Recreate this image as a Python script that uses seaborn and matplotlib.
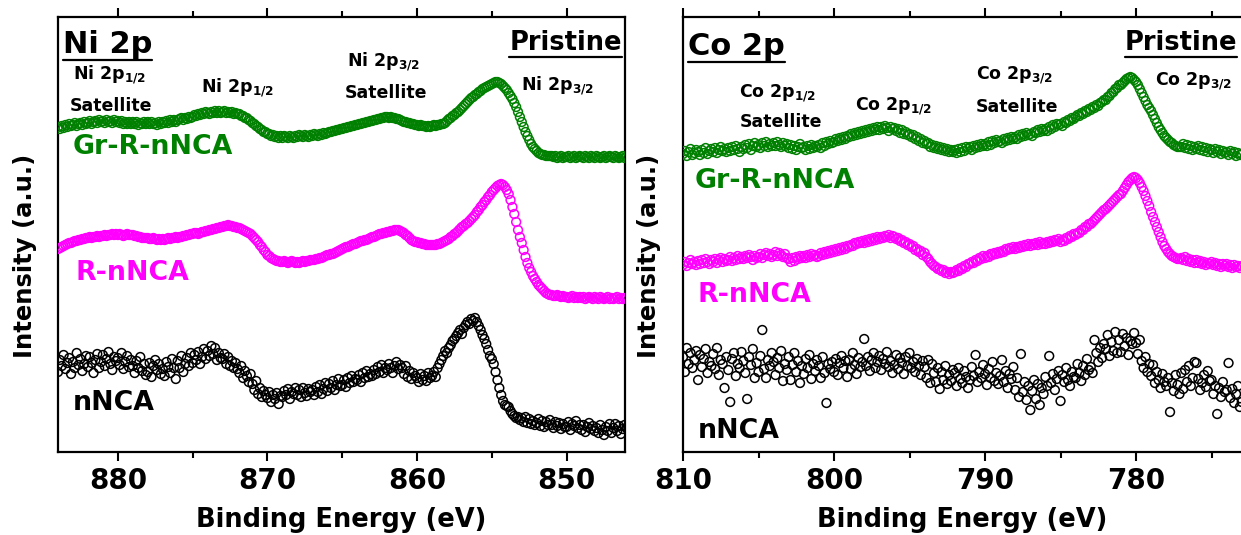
import numpy as np
import pandas as pd
import matplotlib
matplotlib.use("Agg")
import matplotlib.pyplot as plt
import seaborn as sns
from matplotlib.lines import Line2D

# ---------------- data (arbitrary intensity units) ----------------
ni_energy = np.arange(884.0, 845.9, -0.125)      # Ni 2p binding-energy grid
co_energy = np.arange(810.0, 772.9, -0.125)      # Co 2p binding-energy grid

ni_gr = [325, 323, 326, 324, 327, 325, 328, 326,   # 884
         327, 329, 326, 328, 329, 327, 330, 328,   # 883
         329, 331, 328, 330, 331, 329, 332, 330,   # 882
         331, 329, 332, 330, 331, 329, 332, 330,   # 881
         331, 329, 331, 328, 330, 328, 330, 328,   # 880
         330, 328, 330, 327, 329, 328, 330, 328,   # 879
         330, 328, 330, 328, 329, 327, 330, 328,   # 878
         330, 329, 331, 329, 332, 330, 332, 330,   # 877
         332, 333, 334, 332, 334, 333, 335, 334,   # 876
         335, 337, 336, 338, 337, 339, 338, 340,   # 875
         339, 338, 340, 339, 341, 339, 341, 339,   # 874
         340, 341, 339, 340, 339, 340, 338, 339,   # 873
         338, 338, 336, 336, 334, 334, 332, 331,   # 872
         329, 328, 326, 325, 323, 322, 320, 320,   # 871
         318, 318, 316, 317, 315, 316, 314, 316,   # 870
         314, 316, 315, 314, 316, 315, 314, 316,   # 869
         315, 317, 316, 315, 317, 316, 315, 317,   # 868
         316, 318, 317, 316, 318, 317, 319, 318,   # 867
         319, 320, 320, 321, 321, 322, 322, 323,   # 866
         323, 324, 324, 325, 325, 326, 326, 327,   # 865
         327, 328, 328, 329, 329, 330, 330, 331,   # 864
         331, 332, 332, 333, 333, 334, 334, 335,   # 863
         335, 334, 335, 334, 334, 333, 333, 332,   # 862
         331, 330, 330, 329, 329, 328, 328, 327,   # 861
         327, 326, 327, 326, 326, 325, 326, 325,   # 860
         326, 327, 326, 327, 327, 328, 328, 329,   # 859
         331, 333, 334, 336, 337, 339, 340, 342,   # 858
         344, 346, 348, 350, 352, 354, 355, 357,   # 857
         358, 360, 361, 363, 364, 365, 366, 367,   # 856
         368, 369, 370, 370, 369, 368, 366, 364,   # 855
         362, 359, 356, 353, 349, 345, 340, 335,   # 854
         330, 325, 320, 316, 312, 308, 305, 303,   # 853
         301, 299, 298, 297, 297, 296, 296, 296,   # 852
         296, 295, 296, 294, 295, 296, 294, 295,   # 851
         295, 296, 294, 295, 296, 294, 295, 296,   # 850
         295, 294, 296, 295, 294, 296, 295, 294,   # 849
         296, 295, 294, 295, 296, 294, 295, 296,   # 848
         295, 294, 296, 295, 294, 295, 296, 294,   # 847
         295]                                      # 846

ni_r = [203, 204, 205, 206, 207, 208, 209, 209,   # 884
        210, 211, 211, 212, 212, 213, 213, 214,   # 883
        214, 215, 214, 215, 215, 216, 215, 216,   # 882
        216, 217, 216, 217, 217, 218, 217, 218,   # 881
        217, 218, 217, 216, 217, 218, 217, 217,   # 880
        217, 216, 216, 215, 215, 214, 214, 214,   # 879
        214, 213, 213, 214, 213, 212, 213, 212,   # 878
        213, 212, 213, 214, 213, 214, 214, 215,   # 877
        214, 215, 215, 216, 216, 217, 217, 218,   # 876
        218, 219, 219, 218, 219, 220, 220, 221,   # 875
        221, 222, 222, 223, 223, 224, 224, 225,   # 874
        225, 226, 226, 227, 226, 226, 225, 225,   # 873
        224, 224, 223, 222, 221, 220, 219, 218,   # 872
        216, 214, 212, 210, 207, 205, 202, 200,   # 871
        197, 196, 194, 193, 192, 191, 191, 190,   # 870
        190, 191, 190, 189, 190, 191, 190, 189,   # 869
        190, 189, 190, 191, 190, 191, 191, 192,   # 868
        192, 192, 193, 193, 194, 194, 195, 196,   # 867
        197, 197, 198, 198, 199, 200, 201, 202,   # 866
        203, 204, 205, 205, 206, 207, 208, 208,   # 865
        209, 210, 211, 211, 212, 212, 213, 214,   # 864
        215, 215, 216, 217, 218, 218, 219, 219,   # 863
        220, 220, 221, 221, 222, 222, 222, 221,   # 862
        220, 219, 217, 216, 214, 212, 211, 210,   # 861
        210, 209, 209, 208, 208, 207, 207, 207,   # 860
        207, 207, 207, 208, 208, 209, 210, 211,   # 859
        212, 213, 215, 216, 218, 219, 221, 223,   # 858
        225, 226, 228, 229, 231, 233, 235, 237,   # 857
        240, 242, 245, 247, 250, 252, 255, 257,   # 856
        260, 262, 264, 266, 267, 268, 267, 265,   # 855
        262, 258, 252, 245, 238, 230, 222, 215,   # 854
        209, 202, 195, 189, 184, 180, 176, 173,   # 853
        170, 167, 165, 163, 161, 159, 158, 157,   # 852
        157, 156, 156, 157, 156, 155, 156, 155,   # 851
        155, 154, 155, 156, 154, 155, 154, 155,   # 850
        154, 155, 153, 154, 155, 154, 153, 155,   # 849
        154, 153, 155, 154, 153, 154, 155, 153,   # 848
        154, 153, 154, 155, 153, 154, 153, 154,   # 847
        154]                                      # 846

ni_n = [80, 92, 86, 97, 83, 89, 94, 78,     # 884
        90, 84, 99, 87, 93, 81, 88, 96,     # 883
        85, 95, 89, 79, 92, 98, 84, 90,     # 882
        97, 86, 93, 100, 88, 82, 95, 91,    # 881
        94, 87, 99, 83, 90, 96, 85, 92,     # 880
        86, 79, 91, 84, 95, 81, 88, 77,     # 879
        80, 89, 75, 86, 92, 82, 88, 78,     # 878
        83, 76, 90, 85, 79, 93, 84, 73,     # 877
        91, 84, 96, 80, 88, 94, 86, 99,     # 876
        89, 97, 92, 100, 88, 95, 103, 93,   # 875
        101, 96, 106, 98, 104, 92, 99, 94,  # 874
        93, 98, 88, 95, 86, 91, 84, 89,     # 873
        83, 79, 86, 74, 81, 76, 70, 78,     # 872
        68, 62, 71, 58, 64, 55, 61, 57,     # 871
        54, 60, 50, 57, 53, 59, 48, 56,     # 870
        55, 61, 57, 63, 53, 60, 58, 64,     # 869
        57, 62, 55, 64, 59, 56, 63, 60,     # 868
        62, 57, 65, 60, 67, 58, 63, 69,     # 867
        61, 68, 64, 71, 62, 67, 73, 66,     # 866
        67, 72, 65, 74, 69, 76, 70, 73,     # 865
        72, 77, 70, 79, 74, 81, 75, 78,     # 864
        76, 82, 78, 85, 80, 87, 79, 84,     # 863
        82, 88, 84, 79, 86, 90, 83, 87,     # 862
        84, 78, 86, 75, 81, 73, 79, 76,     # 861
        74, 70, 78, 72, 76, 71, 79, 74,     # 860
        76, 80, 75, 84, 88, 92, 96, 101,    # 859
        99, 104, 107, 111, 113, 116, 119, 122,  # 858
        118, 124, 127, 130, 128, 133, 131, 134,  # 857
        130, 126, 122, 117, 113, 108, 102, 96,   # 856
        93, 88, 80, 72, 64, 57, 51, 47,     # 855
        46, 45, 41, 38, 36, 34, 35, 32,     # 854
        34, 30, 35, 29, 33, 28, 31, 27,     # 853
        29, 33, 26, 31, 25, 30, 27, 32,     # 852
        27, 24, 30, 26, 29, 23, 28, 25,     # 851
        25, 30, 22, 28, 26, 31, 24, 27,     # 850
        22, 27, 20, 25, 29, 23, 26, 21,     # 849
        24, 19, 27, 22, 17, 25, 21, 28,     # 848
        19, 24, 28, 21, 26, 18, 23, 27,     # 847
        24]                                 # 846

co_gr = [298, 301, 296, 300, 303, 297, 299, 302,   # 810
         300, 297, 302, 299, 304, 298, 301, 303,   # 809
         300, 304, 299, 302, 305, 301, 303, 300,   # 808
         304, 301, 305, 302, 306, 303, 300, 305,   # 807
         303, 307, 304, 308, 302, 306, 309, 305,   # 806
         307, 304, 309, 306, 310, 305, 308, 306,   # 805
         309, 306, 310, 307, 305, 309, 306, 308,   # 804
         304, 307, 303, 306, 302, 305, 308, 304,   # 803
         305, 302, 306, 303, 307, 304, 306, 305,   # 802
         307, 304, 309, 306, 310, 308, 311, 309,   # 801
         310, 313, 311, 314, 312, 315, 313, 316,   # 800
         315, 318, 316, 319, 317, 320, 318, 321,   # 799
         319, 322, 320, 323, 321, 324, 322, 325,   # 798
         322, 325, 323, 326, 324, 321, 325, 323,   # 797
         324, 321, 323, 319, 322, 318, 320, 317,   # 796
         318, 315, 317, 313, 315, 311, 313, 309,   # 795
         311, 308, 309, 305, 307, 304, 306, 303,   # 794
         305, 302, 304, 301, 303, 300, 302, 300,   # 793
         302, 299, 303, 300, 304, 301, 305, 303,   # 792
         305, 302, 306, 304, 307, 305, 308, 306,   # 791
         308, 306, 310, 307, 311, 309, 312, 310,   # 790
         311, 309, 313, 311, 314, 312, 315, 313,   # 789
         315, 313, 317, 315, 318, 316, 319, 317,   # 788
         318, 316, 320, 319, 322, 320, 323, 321,   # 787
         323, 321, 325, 323, 327, 325, 328, 327,   # 786
         328, 326, 330, 329, 332, 331, 334, 333,   # 785
         335, 337, 336, 339, 338, 341, 340, 343,   # 784
         342, 345, 344, 347, 346, 349, 350, 352,   # 783
         352, 355, 356, 359, 360, 363, 364, 367,   # 782
         367, 369, 371, 373, 374, 375, 374, 372,   # 781
         370, 367, 363, 359, 355, 351, 347, 344,   # 780
         341, 337, 333, 329, 325, 322, 319, 316,   # 779
         314, 312, 310, 309, 307, 306, 305, 305,   # 778
         305, 308, 304, 307, 303, 306, 302, 305,   # 777
         303, 306, 302, 305, 301, 304, 300, 303,   # 776
         302, 299, 303, 300, 302, 298, 301, 299,   # 775
         300, 297, 301, 298, 300, 296, 299, 297,   # 774
         298]                                      # 773

co_r = [187, 190, 186, 189, 192, 188, 190, 187,   # 810
        191, 188, 192, 189, 193, 190, 188, 192,   # 809
        190, 193, 189, 192, 194, 190, 193, 191,   # 808
        192, 195, 191, 194, 192, 196, 193, 195,   # 807
        193, 196, 194, 197, 195, 192, 196, 194,   # 806
        195, 198, 194, 197, 199, 196, 198, 195,   # 805
        197, 200, 196, 199, 197, 195, 198, 194,   # 804
        193, 190, 194, 191, 195, 193, 196, 194,   # 803
        196, 194, 197, 195, 198, 196, 197, 195,   # 802
        196, 199, 197, 200, 198, 201, 199, 202,   # 801
        200, 203, 201, 204, 202, 205, 203, 206,   # 800
        205, 207, 206, 209, 208, 210, 209, 211,   # 799
        209, 212, 210, 213, 211, 214, 212, 215,   # 798
        213, 215, 214, 216, 215, 217, 214, 216,   # 797
        215, 213, 214, 211, 212, 209, 210, 207,   # 796
        208, 205, 206, 202, 203, 200, 201, 197,   # 795
        199, 195, 193, 190, 188, 186, 185, 183,   # 794
        183, 181, 182, 179, 180, 178, 180, 179,   # 793
        180, 182, 181, 184, 183, 186, 185, 188,   # 792
        188, 190, 189, 192, 191, 194, 193, 196,   # 791
        194, 196, 195, 198, 197, 199, 198, 200,   # 790
        199, 201, 200, 203, 202, 204, 203, 205,   # 789
        203, 205, 204, 206, 205, 207, 206, 208,   # 788
        206, 208, 207, 209, 207, 210, 208, 209,   # 787
        208, 210, 209, 211, 210, 212, 211, 213,   # 786
        210, 212, 211, 214, 213, 216, 215, 218,   # 785
        217, 219, 219, 222, 222, 225, 225, 228,   # 784
        228, 230, 232, 234, 236, 238, 240, 242,   # 783
        243, 245, 247, 249, 251, 253, 255, 257,   # 782
        258, 261, 264, 267, 270, 272, 274, 275,   # 781
        274, 272, 269, 265, 261, 256, 251, 246,   # 780
        240, 235, 230, 225, 220, 215, 210, 206,   # 779
        203, 200, 198, 196, 195, 194, 193, 193,   # 778
        194, 192, 195, 191, 193, 190, 192, 189,   # 777
        192, 189, 191, 188, 190, 187, 189, 188,   # 776
        190, 187, 189, 186, 188, 185, 188, 186,   # 775
        188, 185, 187, 184, 187, 185, 186, 184,   # 774
        186]                                      # 773

co_n = [95, 80, 104, 88, 99, 84, 92, 101,   # 810
        72, 97, 85, 93, 103, 79, 90, 86,    # 809
        98, 83, 104, 77, 92, 88, 64, 95,    # 808
        82, 50, 93, 99, 76, 88, 84, 100,    # 807
        91, 79, 53, 95, 87, 103, 74, 89,    # 806
        80, 96, 122, 83, 74, 92, 86, 99,    # 805
        90, 77, 94, 84, 101, 71, 88, 82,    # 804
        95, 72, 87, 99, 80, 91, 69, 86,     # 803
        78, 93, 84, 97, 73, 88, 81, 92,     # 802
        86, 74, 95, 79, 49, 88, 83, 90,     # 801
        80, 93, 77, 89, 96, 84, 91, 75,     # 800
        92, 83, 99, 87, 78, 94, 85, 90,     # 799
        113, 86, 95, 81, 92, 99, 84, 90,    # 798
        96, 82, 93, 88, 100, 85, 91, 79,    # 797
        87, 97, 83, 94, 89, 78, 95, 86,     # 796
        99, 84, 90, 80, 93, 86, 77, 91,     # 795
        85, 74, 92, 69, 88, 79, 70, 84,     # 794
        63, 80, 72, 86, 68, 77, 71, 82,     # 793
        79, 66, 84, 73, 69, 81, 75, 64,     # 792
        72, 85, 76, 97, 70, 80, 74, 87,     # 791
        78, 67, 83, 74, 90, 71, 79, 68,     # 790
        76, 92, 70, 81, 64, 78, 73, 85,     # 789
        62, 74, 55, 98, 60, 70, 52, 66,     # 788
        42, 61, 72, 53, 68, 47, 64, 58,     # 787
        75, 66, 96, 69, 78, 62, 73, 81,     # 786
        51, 77, 70, 84, 72, 66, 80, 75,     # 785
        74, 88, 79, 71, 86, 77, 93, 82,     # 784
        85, 79, 112, 99, 90, 104, 94, 108,  # 783
        103, 117, 96, 110, 101, 120, 99, 112,  # 782
        100, 118, 106, 114, 97, 111, 108, 119,  # 781
        109, 98, 112, 91, 84, 95, 80, 88,   # 780
        76, 87, 69, 80, 72, 64, 78, 70,     # 779
        66, 74, 40, 69, 61, 77, 67, 58,     # 778
        79, 63, 82, 70, 86, 66, 74, 90,     # 777
        89, 73, 62, 69, 77, 65, 81, 71,     # 776
        72, 58, 66, 38, 64, 55, 70, 60,     # 775
        62, 89, 54, 63, 49, 58, 66, 45,     # 774
        50]                                 # 773

sample_names = ["Gr-R-nNCA", "R-nNCA", "nNCA"]
sample_colors = ["#008000", "#ff00ff", "#000000"]
ni_ticks = [880, 870, 860, 850]
ni_minor = [875, 865, 855]
co_ticks = [810, 800, 790, 780]
co_minor = [805, 795, 785, 775]

# ---------------- style ----------------
sns.set_style("ticks")
plt.rcParams["font.family"] = ["DejaVu Sans"]
plt.rcParams["font.weight"] = "bold"
plt.rcParams["mathtext.fontset"] = "dejavusans"
plt.rcParams["mathtext.default"] = "bf"
for k in ("text.color", "axes.labelcolor", "xtick.color", "ytick.color", "axes.edgecolor"):
    plt.rcParams[k] = "black"

W, H = 1241, 535
fig = plt.figure(figsize=(W / 100, H / 100), dpi=100)
fig.patch.set_facecolor("white")


def fx(px):
    return px / W


def fy(py):
    return 1 - py / H


ax1 = fig.add_axes([fx(58), fy(452), (625 - 58) / W, (452 - 17) / H])
ax2 = fig.add_axes([fx(683), fy(452), (1241 - 683) / W, (452 - 17) / H])


def draw_panel(ax, energy, series, xlim, ticks, minor):
    for vals, col in zip(series, sample_colors):
        vals = np.asarray(vals, dtype=float)
        assert len(vals) == len(energy), (len(vals), len(energy))
        df = pd.DataFrame({"E": energy, "I": vals})
        sns.scatterplot(data=df, x="E", y="I", ax=ax, color=col, s=40,
                        marker="o", linewidth=1.1, legend=False, zorder=3)
        coll = ax.collections[-1]
        coll.set_facecolor("none")
        coll.set_edgecolor(col)
        coll.set_linewidth(1.1)
    ax.set_xticks(ticks)
    ax.set_xticks(minor, minor=True)
    ax.set_xticklabels([str(t) for t in ticks], fontsize=20, fontweight="bold")
    ax.set_xlim(*xlim)
    ax.set_ylim(0, 435)
    ax.set_yticks([])
    ax.set_xlabel("")
    ax.set_ylabel("")
    ax.tick_params(axis="x", which="major", direction="out", length=6.5, width=1.5,
                   top=True, bottom=True, pad=4, colors="black")
    ax.tick_params(axis="x", which="minor", direction="out", length=4, width=1.5,
                   top=True, bottom=True)
    for s in ax.spines.values():
        s.set_linewidth(1.6)
        s.set_color("black")
    ax.set_facecolor("white")


draw_panel(ax1, ni_energy, [ni_gr, ni_r, ni_n], (884.0, 846.1), ni_ticks, ni_minor)
draw_panel(ax2, co_energy, [co_gr, co_r, co_n], (810.0, 773.05), co_ticks, co_minor)
ax2.spines["right"].set_visible(False)

# axis labels
for cx in (341, 962):
    fig.text(fx(cx), fy(527), "Binding Energy (eV)", ha="center", va="baseline",
             fontsize=18.5, fontweight="bold")
for lx in (25, 649):
    fig.text(fx(lx), fy(256), "Intensity (a.u.)", ha="center", va="center",
             rotation=90, fontsize=17.5, fontweight="bold")

# sample labels
lab_pos = [(73, 147, 0), (75, 273, 1), (73, 403, 2),
           (695, 181, 0), (697, 295, 1), (698, 431, 2)]
for px, py, k in lab_pos:
    fig.text(fx(px), fy(py), sample_names[k], ha="left", va="center",
             fontsize=19.3, fontweight="bold", color=sample_colors[k])

# peak annotations
ann = [
    (110, 75, r"Ni 2p$_{1/2}$"), (111, 106, "Satellite"),
    (238, 88, r"Ni 2p$_{1/2}$"),
    (384, 62, r"Ni 2p$_{3/2}$"), (386, 93, "Satellite"),
    (558, 86, r"Ni 2p$_{3/2}$"),
    (778, 93, r"Co 2p$_{1/2}$"), (781, 122, "Satellite"),
    (894, 106, r"Co 2p$_{1/2}$"),
    (1015, 75, r"Co 2p$_{3/2}$"), (1017, 107, "Satellite"),
    (1194, 81, r"Co 2p$_{3/2}$"),
]
for px, py, s in ann:
    fig.text(fx(px), fy(py), s, ha="center", va="center", fontsize=12.5,
             fontweight="bold", color="black")

# titles with underline
titles = [
    fig.text(fx(63), fy(53), "Ni 2p", ha="left", va="baseline", fontsize=22, fontweight="bold"),
    fig.text(fx(688), fy(55), "Co 2p", ha="left", va="baseline", fontsize=22, fontweight="bold"),
    fig.text(fx(622), fy(50), "Pristine", ha="right", va="baseline", fontsize=18.5, fontweight="bold"),
    fig.text(fx(1237), fy(50), "Pristine", ha="right", va="baseline", fontsize=18.5, fontweight="bold"),
]
fig.canvas.draw()
renderer = fig.canvas.get_renderer()
for t in titles:
    bb = t.get_window_extent(renderer)
    yy = (bb.y0 - 1) / H
    fig.add_artist(Line2D([bb.x0 / W, bb.x1 / W], [yy, yy], transform=fig.transFigure,
                          color="black", lw=1.6))

fig.savefig("out.png", dpi=100, facecolor="white")
